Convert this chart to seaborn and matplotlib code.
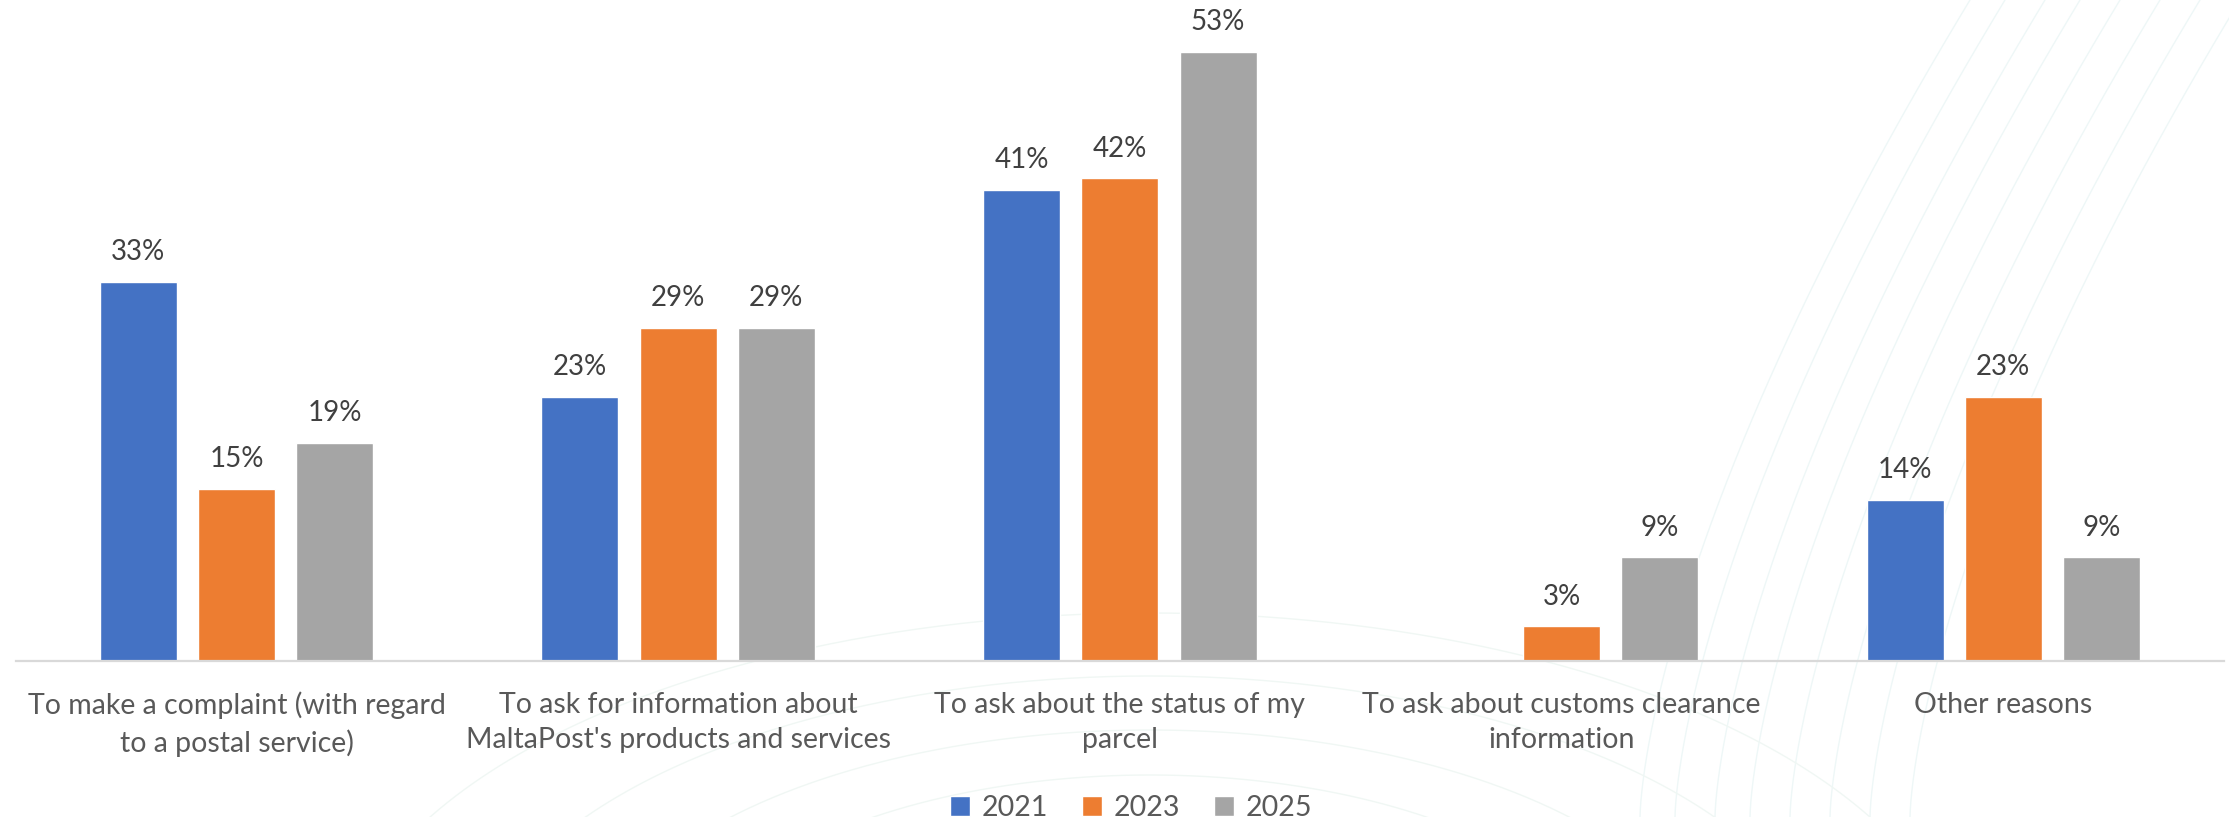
import matplotlib
matplotlib.use("Agg")
import matplotlib.pyplot as plt
import numpy as np
import pandas as pd
import seaborn as sns

# Reasons for contacting MaltaPost, share of respondents per survey year
categories = [
    "To make a complaint (with regard\nto a postal service)",
    "To ask for information about\nMaltaPost's products and services",
    "To ask about the status of my\nparcel",
    "To ask about customs clearance\ninformation",
    "Other reasons",
]
years = ["2021", "2023", "2025"]
values_2021 = [33, 23, 41, np.nan, 14]
values_2023 = [15, 29, 42, 3, 23]
values_2025 = [19, 29, 53, 9, 9]

colors = ["#4472C4", "#ED7D31", "#A5A5A5"]

rows = []
for year, vals in zip(years, [values_2021, values_2023, values_2025]):
    for cat, v in zip(categories, vals):
        rows.append({"reason": cat, "year": year, "share": v})
df = pd.DataFrame(rows)

sns.set_theme(style="white")
plt.rcParams["font.family"] = ["Lato", "DejaVu Sans"]

fig = plt.figure(figsize=(22.29, 8.17), dpi=100)

# faint decorative line pattern behind the chart
bg = fig.add_axes([0, 0, 1, 1], zorder=0)
bg.set_xlim(0, 2229)
bg.set_ylim(817, 0)
bg.axis("off")
t = np.linspace(0, 1, 200)
for x0 in [1640, 1675, 1715, 1750, 1790, 1830, 1870, 1910]:
    ys = 817 * (1 - t)
    xs = x0 + 330 * t ** 1.5
    bg.plot(xs, ys, color="#EEF7F7", lw=1.0)
theta = np.linspace(np.pi * 0.05, np.pi * 0.95, 300)
for r in [250, 300, 360, 430]:
    bg.plot(1150 + 1.9 * r * np.cos(theta), 1000 - r * np.sin(theta) * 0.9,
            color="#F0F7F4", lw=1.0)

ax = fig.add_axes([0.007, 0.191, 0.9908, 0.809], zorder=1)
ax.patch.set_alpha(0)

sns.barplot(
    data=df, x="reason", y="share", hue="year", order=categories,
    hue_order=years, palette=colors, width=0.667, gap=0.216,
    saturation=1, ax=ax, legend=True, errorbar=None,
)

ax.set_ylim(0, 57.5)
ax.set_xlim(-0.5, len(categories) - 0.5)

# value labels above each drawn bar
for container in ax.containers:
    for bar in container:
        if bar is None:
            continue
        h = bar.get_height()
        if not np.isfinite(h):
            continue
        ax.annotate(
            f"{h:.0f}%", (bar.get_x() + bar.get_width() / 2, h),
            xytext=(0, 12), textcoords="offset points",
            ha="center", va="bottom", fontsize=20, color="#404040",
        )

ax.set_xlabel("")
ax.set_ylabel("")
ax.set_yticks([])
ax.tick_params(axis="x", length=0, pad=22, labelsize=20.5, labelcolor="#595959")
for lbl in ax.get_xticklabels():
    lbl.set_multialignment("center")
    lbl.set_linespacing(1.45)

for side in ["top", "left", "right"]:
    ax.spines[side].set_visible(False)
ax.spines["bottom"].set_color("#D9D9D9")
ax.spines["bottom"].set_linewidth(1.6)

leg = ax.legend(
    loc="center", bbox_to_anchor=(0.505, -0.222), ncol=3, frameon=False,
    fontsize=20.5, handlelength=0.7, handleheight=0.7, handletextpad=0.4,
    columnspacing=1.2,
)
for txt in leg.get_texts():
    txt.set_color("#595959")

fig.savefig("out.png", dpi=100, facecolor="white")
